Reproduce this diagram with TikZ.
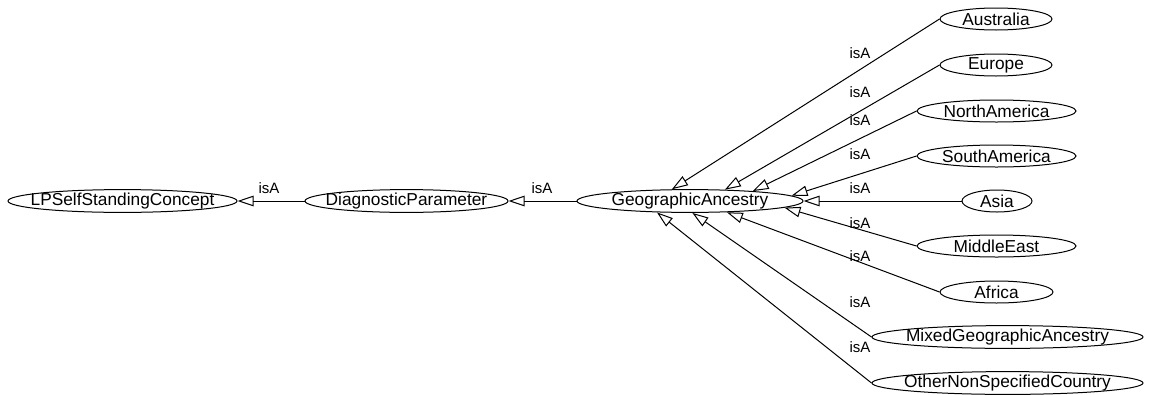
\documentclass[tikz,border=0pt]{standalone}
\usepackage{fontspec}
\setmainfont{Liberation Sans}
\usetikzlibrary{shapes.geometric,arrows.meta}
\newcommand{\ctext}[1]{\makebox[0pt]{#1}}
\begin{document}
\begin{tikzpicture}[x=1pt,y=-1pt,
  concept/.style={draw, ellipse, line width=1pt, inner sep=0pt, minimum height=22pt,
    font=\fontsize{17.3}{20}\selectfont},
  isa/.style={draw, line width=1pt, -{Triangle[open,length=16pt,width=10.5pt]}},
  lbl/.style={font=\fontsize{15}{18}\selectfont, inner sep=0pt}]
\useasboundingbox (0,0) rectangle (1150,394);

% class hierarchy nodes (fixed ellipse sizes, text centred inside)
\node[concept, minimum width=229pt] (lp)  at (122.5,201) {\ctext{LPSelfStandingConcept}};
\node[concept, minimum width=203pt] (dp)  at (406.5,201) {\ctext{DiagnosticParameter}};
\node[concept, minimum width=226pt] (ga)  at (690,201)   {\ctext{GeographicAncestry}};

\node[concept, minimum width=112pt] (aus) at (996,19)  {\ctext{Australia}};
\node[concept, minimum width=112pt] (eur) at (996,65)  {\ctext{Europe}};
\node[concept, minimum width=159pt] (nam) at (996.5,111) {\ctext{NorthAmerica}};
\node[concept, minimum width=159pt] (sam) at (996.5,156) {\ctext{SouthAmerica}};
\node[concept, minimum width=70pt]  (asi) at (997,201) {\ctext{Asia}};
\node[concept, minimum width=159pt] (mde) at (996.5,246) {\ctext{MiddleEast}};
\node[concept, minimum width=113pt] (afr) at (996.5,292) {\ctext{Africa}};
\node[concept, minimum width=271pt] (mix) at (1007.5,337) {\ctext{MixedGeographicAncestry}};
\node[concept, minimum width=271pt] (oth) at (1007.5,383) {\ctext{OtherNonSpecifiedCountry}};

% subclass links
\draw[isa] (dp.west)  -- (lp.east);
\draw[isa] (ga.west)  -- (dp.east);
\draw[isa] (aus.west) -- (ga.147.4);
\draw[isa] (eur.west) -- (ga.18.2);
\draw[isa] (nam.west) -- (ga.9.5);
\draw[isa] (sam.west) -- (ga.3.6);
\draw[isa] (asi.west) -- (ga.east);
\draw[isa] (mde.west) -- (ga.-4.2);
\draw[isa] (afr.west) -- (ga.-17.7);
\draw[isa] (mix.west) -- (ga.-79.7);
\draw[isa] (oth.west) -- (ga.-161.8);

% link labels
\node[lbl] (l1)  at (269,188) {isA};
\node[lbl] (l2)  at (542,188) {isA};
\node[lbl] (l3)  at (860,53)  {isA};
\node[lbl] (l4)  at (860,92)  {isA};
\node[lbl] (l5)  at (860,120) {isA};
\node[lbl] (l6)  at (860,154) {isA};
\node[lbl] (l7)  at (860,188) {isA};
\node[lbl] (l8)  at (860,223) {isA};
\node[lbl] (l9)  at (860,256) {isA};
\node[lbl] (l10) at (860,302) {isA};
\node[lbl] (l11) at (860,347) {isA};
\end{tikzpicture}
\end{document}
